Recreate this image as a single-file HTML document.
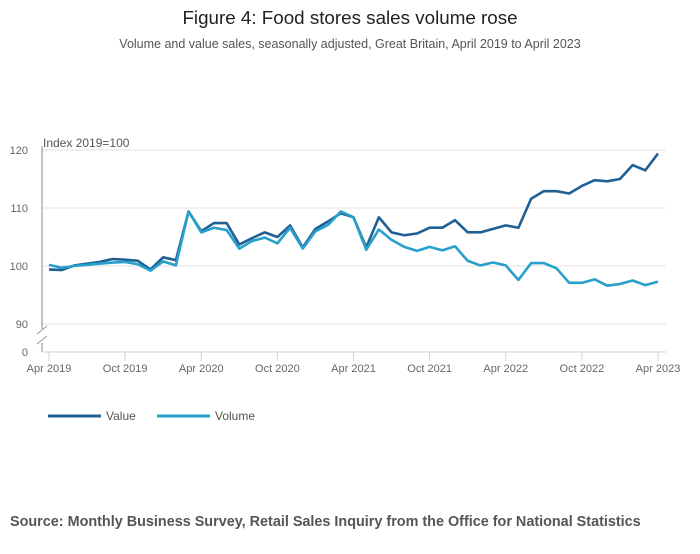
<!DOCTYPE html>
<html><head><meta charset="utf-8"><style>
body{margin:0;background:#fff;font-family:"Liberation Sans","DejaVu Sans",sans-serif;}
svg text{font-family:"Liberation Sans","DejaVu Sans",sans-serif;}
</style></head><body>
<svg id="chart" width="700" height="549" xmlns="http://www.w3.org/2000/svg">
<text x="350" y="24" text-anchor="middle" font-size="18.8" fill="#222">Figure 4: Food stores sales volume rose</text>
<text x="350" y="48" text-anchor="middle" font-size="12.5" fill="#555">Volume and value sales, seasonally adjusted, Great Britain, April 2019 to April 2023</text>
<text x="43" y="147" font-size="12" fill="#555">Index 2019=100</text>
<g id="grid"></g>
<g id="axes"></g>
<g id="series"></g>
<g>
<line x1="48" y1="416" x2="101" y2="416" stroke="#206095" stroke-width="3"/>
<text x="106" y="420" font-size="12" fill="#555">Value</text>
<line x1="157" y1="416" x2="210" y2="416" stroke="#27a0cc" stroke-width="3"/>
<text x="215" y="420" font-size="12" fill="#555">Volume</text>
</g>
<text x="10" y="526" font-size="14.4" font-weight="bold" fill="#555">Source: Monthly Business Survey, Retail Sales Inquiry from the Office for National Statistics</text>
</svg>
<script>
const valueSeries=[99.4,99.3,100.1,100.4,100.7,101.2,101.1,100.9,99.4,101.5,101.0,109.4,106.0,107.4,107.4,103.7,104.8,105.8,105.0,107.0,103.2,106.4,107.7,109.1,108.4,103.2,108.4,105.8,105.3,105.6,106.6,106.6,107.9,105.8,105.8,106.4,107.0,106.6,111.6,112.9,112.9,112.5,113.8,114.8,114.6,115.0,117.4,116.5,119.4];
const volumeSeries=[100.2,99.7,100.0,100.2,100.4,100.6,100.7,100.3,99.2,100.8,100.1,109.4,105.8,106.6,106.2,103.0,104.3,104.9,103.9,106.6,103.0,106.0,107.1,109.4,108.4,102.8,106.3,104.5,103.3,102.6,103.3,102.7,103.4,100.9,100.1,100.6,100.1,97.6,100.5,100.5,99.6,97.1,97.1,97.7,96.6,96.9,97.5,96.7,97.3];
const yTicks=[90,100,110,120];
const xTickLabels=["Apr 2019","Oct 2019","Apr 2020","Oct 2020","Apr 2021","Oct 2021","Apr 2022","Oct 2022","Apr 2023"];
const NS="http://www.w3.org/2000/svg";
const x0=49,x1=658,n=valueSeries.length;
function xs(i){return x0+(x1-x0)*i/(n-1);}
function ys(v){return 266-(v-100)*5.8;}
function mk(tag,attrs,parent){const e=document.createElementNS(NS,tag);for(const k in attrs)e.setAttribute(k,attrs[k]);parent.appendChild(e);return e;}
const grid=document.getElementById('grid'),axes=document.getElementById('axes'),ser=document.getElementById('series');
yTicks.forEach(t=>{
 const g=mk('line',{x1:42,x2:666,y1:ys(t),y2:ys(t),stroke:'#e0e0e0','stroke-width':1},grid);
 
 
 const l=mk('text',{x:28,y:ys(t)+4,'text-anchor':'end','font-size':11,fill:'#666'},axes);
 l.textContent=t;
 
 
});
const z=mk('text',{x:28,y:356,'text-anchor':'end','font-size':11,fill:'#666'},axes);z.textContent='0';


const ya=mk('path',{d:'M42,146V329 M42,343V352',stroke:'#888','stroke-width':1,fill:'none'},axes);


const br=mk('path',{d:'M37,334L47,326 M37,344L47,336',stroke:'#999','stroke-width':1,fill:'none'},axes);


const xa=mk('line',{x1:42,x2:666,y1:352,y2:352,stroke:'#c8d4e6','stroke-width':1},axes);


xTickLabels.forEach((lab,k)=>{
 const x=xs(k*6);
 const t=mk('line',{x1:x,x2:x,y1:352,y2:361,stroke:'#c8d4e6'},axes);
 
 
 const l=mk('text',{x:x,y:372,'text-anchor':'middle','font-size':11,fill:'#666'},axes);
 l.textContent=lab;
 
 
});
function line(data,color,name){
 const p=mk('polyline',{points:data.map((v,i)=>xs(i)+','+ys(v)).join(' '),fill:'none',stroke:color,'stroke-width':2.6,'stroke-linejoin':'round'},ser);
 
 
}
line(valueSeries,'#206095','value-line');
line(volumeSeries,'#27a0cc','volume-line');
</script>
</body></html>
